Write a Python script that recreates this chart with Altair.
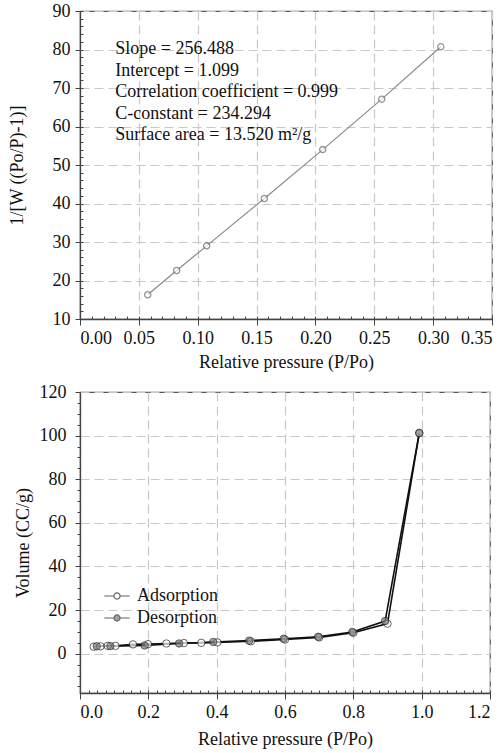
import altair as alt
import pandas as pd

# ---- Top panel: BET plot ----
bet_x = [0.0575, 0.0821, 0.1076, 0.1566, 0.2062, 0.2563, 0.3065]
bet_y = [16.3, 22.6, 29.0, 41.3, 54.0, 67.1, 80.7]
bet_text = [
    "Slope = 256.488",
    "Intercept = 1.099",
    "Correlation coefficient = 0.999",
    "C-constant = 234.294",
    "Surface area = 13.520 m\u00b2/g",
]
bet_text_anchor_x = [0.030]
bet_text_anchor_y = [82.4]
top_x_ticks = [0.00, 0.05, 0.10, 0.15, 0.20, 0.25, 0.30, 0.35]
top_y_ticks = [10, 20, 30, 40, 50, 60, 70, 80, 90]
top_x_minor = [round(i * 0.01, 2) for i in range(0, 36)]
top_y_minor = [10 + 2 * i for i in range(0, 41)]

# ---- Bottom panel: isotherm ----
series_names = ["Adsorption", "Desorption"]
ads_x = [0.040, 0.060, 0.081, 0.104, 0.155, 0.199, 0.253, 0.304, 0.355, 0.402,
         0.500, 0.600, 0.700, 0.800, 0.900, 0.993]
ads_y = [3.2, 3.4, 3.6, 3.6, 4.3, 4.4, 4.7, 4.9, 5.0, 5.2,
         5.7, 6.5, 7.5, 9.6, 13.8, 101.2]
des_x = [0.049, 0.089, 0.189, 0.290, 0.390, 0.495, 0.596, 0.697, 0.797, 0.893, 0.993]
des_y = [3.4, 3.5, 3.8, 4.7, 5.4, 6.0, 6.9, 7.8, 10.0, 15.0, 101.2]
bot_x_ticks = [0.0, 0.2, 0.4, 0.6, 0.8, 1.0, 1.2]
bot_y_ticks = [0, 20, 40, 60, 80, 100, 120]
bot_x_minor = [round(i * 0.025, 3) for i in range(0, 49)]
bot_y_minor = [-15 + 5 * i for i in range(0, 28)]

FONT = "Liberation Serif, Times New Roman, serif"
TOP_W, TOP_H = 412, 308
BOT_W, BOT_H = 410, 301

bet_df = pd.DataFrame({"x": bet_x, "y": bet_y})
txt_df = pd.DataFrame({"x": bet_text_anchor_x, "y": bet_text_anchor_y})

iso_df = pd.DataFrame({
    "x": ads_x + des_x,
    "y": ads_y + des_y,
    "series": [series_names[0]] * len(ads_x) + [series_names[1]] * len(des_x),
})

# ---------- top chart ----------
tx = alt.Scale(domain=[0, 0.35], nice=False, zero=False)
ty = alt.Scale(domain=[10, 90], nice=False, zero=False)

top_line = alt.Chart(bet_df).mark_line(color="#8a8a8a", strokeWidth=1.2).encode(
    x=alt.X("x:Q", scale=tx, axis=alt.Axis(values=top_x_ticks, format=".2f",
                                            title="Relative pressure (P/Po)",
                                            tickSize=6, labelPadding=4, titlePadding=6)),
    y=alt.Y("y:Q", scale=ty, axis=alt.Axis(values=top_y_ticks, format="d",
                                            title="1/[W ((Po/P)-1)]",
                                            tickSize=5, labelPadding=5, titlePadding=26)),
)
top_pts = alt.Chart(bet_df).mark_point(shape="circle", filled=True, fill="white",
                                       stroke="#666", strokeWidth=1.3, size=38).encode(
    x=alt.X("x:Q", scale=tx, axis=None), y=alt.Y("y:Q", scale=ty, axis=None))
top_txt = alt.Chart(txt_df).mark_text(text=bet_text, align="left", baseline="top",
                                      lineHeight=21.5, font=FONT, fontSize=18,
                                      color="#111").encode(
    x=alt.X("x:Q", scale=tx, axis=None), y=alt.Y("y:Q", scale=ty, axis=None))
top_minor = alt.Chart(bet_df).mark_point(opacity=0).encode(
    x=alt.X("x:Q", scale=tx, axis=alt.Axis(values=top_x_minor, labels=False, title=None,
                                            grid=False, domain=False, tickSize=3,
                                            orient="top", offset=-TOP_H)),
    y=alt.Y("y:Q", scale=ty, axis=alt.Axis(values=top_y_minor, labels=False, title=None,
                                            grid=False, domain=False, tickSize=3,
                                            orient="right", offset=-TOP_W)),
)
top = alt.layer(top_line, top_minor, top_pts, top_txt).resolve_axis(
    x="independent", y="independent").properties(width=TOP_W, height=TOP_H)

# ---------- bottom chart ----------
bx = alt.Scale(domain=[0, 1.2], nice=False, zero=False)
by = alt.Scale(domain=[-18, 120], nice=False, zero=False)

bot_lines = alt.Chart(iso_df).mark_line(color="#111", strokeWidth=1.6).encode(
    x=alt.X("x:Q", scale=bx, axis=alt.Axis(values=bot_x_ticks, format=".1f",
                                            title="Relative pressure (P/Po)",
                                            tickSize=6, labelPadding=4, titlePadding=9)),
    y=alt.Y("y:Q", scale=by, axis=alt.Axis(values=bot_y_ticks, format="d",
                                            title="Volume (CC/g)",
                                            tickSize=5, labelPadding=9, titlePadding=7)),
    detail="series:N",
)
bot_minor = alt.Chart(iso_df).mark_point(opacity=0).encode(
    x=alt.X("x:Q", scale=bx, axis=alt.Axis(values=bot_x_minor, labels=False, title=None,
                                            grid=False, domain=False, tickSize=3,
                                            orient="top", offset=-BOT_H)),
    y=alt.Y("y:Q", scale=by, axis=alt.Axis(values=bot_y_minor, labels=False, title=None,
                                            grid=False, domain=False, tickSize=3,
                                            orient="left")),
)
legend_symbol = ("M -1.15 0 L -0.28 0 M 0.28 0 L 1.15 0 "
                 "M -0.28 0 A 0.28 0.28 0 1 1 0.28 0 A 0.28 0.28 0 1 1 -0.28 0 Z")
bot_pts = alt.Chart(iso_df).mark_point(shape="circle", filled=True, stroke="#222",
                                       strokeWidth=1, size=55).encode(
    x=alt.X("x:Q", scale=bx, axis=None), y=alt.Y("y:Q", scale=by, axis=None),
    fill=alt.Fill("series:N",
                  scale=alt.Scale(domain=series_names, range=["white", "#7a7a7a"]),
                  legend=alt.Legend(title=None, orient="none", legendX=25, legendY=573,
                                    symbolType=legend_symbol, symbolSize=484,
                                    symbolStrokeColor="#222", symbolStrokeWidth=1.2,
                                    labelFont=FONT, labelFontSize=18, labelColor="#111",
                                    labelOffset=8, rowPadding=1, padding=0)),
)
bottom = alt.layer(bot_lines, bot_minor, bot_pts).resolve_axis(
    x="independent", y="independent").properties(width=BOT_W, height=BOT_H)

chart = alt.vconcat(top, bottom, spacing=10).properties(
    padding={"left": 7, "top": 1, "right": 6, "bottom": 4}, background="white"
).configure_axis(
    labelFont=FONT, labelFontSize=18, labelColor="#111",
    titleFont=FONT, titleFontSize=18, titleFontWeight="normal", titleColor="#111",
    gridColor="#c8c8c8", gridDash=[9, 5], gridWidth=1.2,
    domainColor="#444", domainWidth=1.3, tickColor="#444", tickWidth=1,
).configure_view(stroke="#555", strokeWidth=1.2)

chart.save("out.html", embed_options={"renderer": "svg", "actions": False})
